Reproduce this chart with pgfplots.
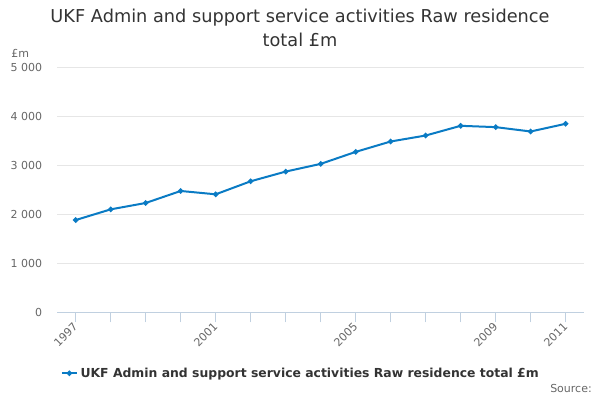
\documentclass[border=0pt]{standalone}
\usepackage{pgfplots}
\pgfplotsset{compat=1.18}
\usepackage{fontspec}
\setmainfont{DejaVu Sans}
\definecolor{series}{RGB}{10,123,196}
\definecolor{gridc}{RGB}{230,230,230}
\definecolor{axisc}{RGB}{192,208,224}
\definecolor{labc}{RGB}{102,102,102}
\definecolor{titc}{RGB}{51,51,51}
\begin{document}
\begin{tikzpicture}
\path[use as bounding box] (0,0) rectangle (450pt,300pt);
\node[font=\fontsize{13.3pt}{16pt}\selectfont, text=titc] at (225pt,286.5pt) {UKF Admin and support service activities Raw residence};
\node[font=\fontsize{13.3pt}{16pt}\selectfont, text=titc] at (225pt,270pt) {total £m};
\node[font=\fontsize{8.25pt}{10pt}\selectfont, text=labc, anchor=base west, inner sep=0] at (8.25pt,257pt) {£m};
\node[font=\fontsize{8.25pt}{10pt}\selectfont, text=labc, anchor=base east, inner sep=0] at (444pt,5.5pt) {Source:};
\begin{axis}[
  at={(42.975pt,65.775pt)}, anchor=south west,
  scale only axis, width=395pt, height=183.75pt,
  xmin=1996.474, xmax=2011.523, ymin=0, ymax=5000,
  axis lines*=left,
  y axis line style={draw=none},
  x axis line style={draw=axisc, line width=0.75pt},
  ytick={0,1000,2000,3000,4000,5000},
  yticklabels={0,1~000,2~000,3~000,4~000,5~000},
  ymajorgrids, grid style={draw=gridc, line width=0.75pt},
  xtick={1997,2001,2005,2009,2011},
  xticklabels={1997,2001,2005,2009,2011},
  minor xtick={1998,1999,2000,2002,2003,2004,2006,2007,2008,2010},
  tick align=outside,
  major tick length=7.5pt,
  minor tick length=7.5pt,
  xtick style={draw=axisc, line width=0.75pt},
  minor x tick style={draw=axisc, line width=0.75pt},
  ytick style={draw=none},
  tick label style={font=\fontsize{8.25pt}{10pt}\selectfont, text=labc},
  yticklabel style={anchor=east, inner sep=0pt, xshift=-3.75pt},
  xticklabel style={rotate=45, anchor=east, inner sep=0pt, xshift=-1pt, yshift=-1pt},
  /pgf/number format/assume math mode=true,
  legend style={at={(0.463,-0.249)}, anchor=center, draw=none, fill=none,
    font=\bfseries\fontsize{9.3pt}{11pt}\selectfont, text=titc,
    nodes={inner sep=2pt}},
  legend cell align=left,
  legend image code/.code={\draw[#1, mark repeat=2, mark phase=2] plot coordinates {(0pt,0pt) (5.6pt,0pt) (11.25pt,0pt)};},
]
\addplot[color=series, line width=1.5pt, mark=*, mark size=1.2pt, mark options={solid}] coordinates {
(1997,1883) (1998,2101) (1999,2231) (2000,2476) (2001,2408)
(2002,2674) (2003,2872) (2004,3029) (2005,3274) (2006,3486)
(2007,3608) (2008,3806) (2009,3779) (2010,3690) (2011,3847)
};
\addlegendentry{UKF Admin and support service activities Raw residence total £m}
\end{axis}
\end{tikzpicture}
\end{document}
